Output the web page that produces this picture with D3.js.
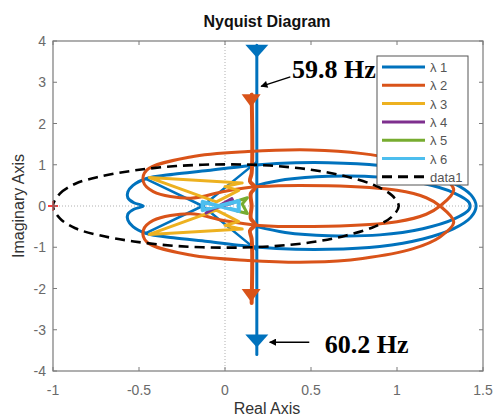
<!DOCTYPE html>
<html><head><meta charset="utf-8">
<script src="https://cdn.jsdelivr.net/npm/d3@7"></script>
<style>body{margin:0;background:#fff}svg{display:block}</style>
</head><body>
<svg id="c" width="493" height="417"></svg>
<script>
// ---- data ----
const xTicks = [-1, -0.5, 0, 0.5, 1, 1.5];
const xTickLabels = ["-1", "-0.5", "0", "0.5", "1", "1.5"];
const yTicks = [-4, -3, -2, -1, 0, 1, 2, 3, 4];
const yTickLabels = ["-4", "-3", "-2", "-1", "0", "1", "2", "3", "4"];
const seriesNames = ["λ 1", "λ 2", "λ 3", "λ 4", "λ 5", "λ 6", "data1"];

// λ1 (blue)
const l1Outer = [[-0.475,0],[-0.53,0.08],[-0.565,0.2],[-0.565,0.34],[-0.535,0.5],[-0.46,0.66],[-0.3,0.77],[-0.1,0.86],[0.1,0.96],[0.3,1.03],[0.6,1.05],[0.9,0.98],[1.15,0.8],[1.33,0.55],[1.43,0.27],[1.46,0],
  [1.43,-0.27],[1.33,-0.55],[1.15,-0.8],[0.9,-0.98],[0.6,-1.05],[0.3,-1.03],[0.1,-0.96],[-0.1,-0.86],[-0.3,-0.77],[-0.46,-0.66],[-0.535,-0.5],[-0.565,-0.34],[-0.565,-0.2],[-0.53,-0.08]];
const l1Inner = [[0.185,0.5],[0.35,0.64],[0.6,0.72],[0.9,0.7],[1.15,0.55],[1.33,0.32],[1.42,0.08],[1.42,-0.08],[1.33,-0.32],[1.15,-0.55],[0.9,-0.7],[0.6,-0.72],[0.35,-0.64],[0.185,-0.5]];
const l1CrossA = [[-0.46,0.66],[-0.13,0],[0.185,-1.07]];
const l1CrossB = [[-0.46,-0.66],[-0.13,0],[0.185,1.07]];
const l1Vertical = [[0.185,3.9],[0.185,-3.6]];
const l1Arrows = [[0.185,3.75],[0.185,-3.27]];

// λ2 (orange)
const l2Loop = [[1.09,1.04],[1.25,0.75],[1.33,0.39],[1.25,0],[1.17,-0.2],[1.0,-0.38],[0.6,-0.49],[0.2,-0.47],[0,-0.36],[-0.2,-0.19],[-0.417,-0.35],[-0.475,-0.59],[-0.455,-0.87],[-0.2,-1.19],[0.134,-1.32],[0.5,-1.36],[0.8,-1.27],
  [1.09,-1.04],[1.25,-0.75],[1.33,-0.39],[1.25,0],[1.17,0.2],[1.0,0.38],[0.6,0.49],[0.2,0.47],[0,0.36],[-0.2,0.19],[-0.417,0.35],[-0.475,0.59],[-0.455,0.87],[-0.2,1.19],[0.134,1.32],[0.5,1.36],[0.8,1.27]];
const l2Vertical = [[0.155,2.7],[0.155,0.8],[0.145,0.6],[0.175,0.45],[0.15,0.3],[0.155,0],[0.15,-0.3],[0.175,-0.45],[0.145,-0.6],[0.155,-0.8],[0.155,-2.35]];
const l2Arrows = [[0.152,2.55],[0.152,-2.17]];

// λ3 (yellow)
const l3Upper = [[0.1,0.56],[-0.44,0.69],[-0.05,0.1],[0.08,0.38],[0.0,0.47],[0.1,0.56]];
const l3Lower = [[0.1,-0.56],[-0.44,-0.69],[-0.05,-0.1],[0.08,-0.38],[0.0,-0.47],[0.1,-0.56]];
// λ4 (purple)
const l4 = [[-0.11,-0.17],[0.04,0.18],[0.05,0.08],[-0.08,-0.08],[-0.11,-0.17]];
// λ5 (green)
const l5 = [[0.07,0.12],[0.13,0.2],[0.1,0.05],[0.13,-0.18],[0.07,-0.12]];
// λ6 (light blue)
const l6 = [[-0.13,0.1],[0.08,-0.12],[0.08,0.12],[-0.13,-0.1],[-0.13,0.1]];
// data1 (unit circle, dashed)
const unitCircle = [[-1,0],[-0.96,0.3],[-0.87,0.54],[-0.73,0.71],[-0.53,0.86],[-0.28,0.97],[0,1.01],[0.26,0.98],[0.5,0.88],[0.7,0.72],[0.87,0.5],[0.97,0.26],[1.01,0],
  [0.97,-0.26],[0.87,-0.5],[0.7,-0.72],[0.5,-0.88],[0.26,-0.98],[0,-1.01],[-0.28,-0.97],[-0.53,-0.86],[-0.73,-0.71],[-0.87,-0.54],[-0.96,-0.3]];

// annotations: text anchor, arrow from, arrow to (data units)
const ann598 = {label:"59.8 Hz", text:[0.39,3.1], from:[0.38,3.13], to:[0.21,2.9]};
const ann602 = {label:"60.2 Hz", text:[0.58,-3.56], from:[0.49,-3.3], to:[0.26,-3.3]};

// ---- chart ----
const W = 493, H = 417;
const svg = d3.select("#c");
const x = d3.scaleLinear().domain([-1, 1.5]).range([53, 483]);
const y = d3.scaleLinear().domain([-4, 4]).range([371, 41]);
const C = {b:"#0072BD", o:"#D95319", yl:"#EDB120", p:"#7E2F8E", g:"#77AC30", c:"#4DBEEE"};

svg.append("rect").attr("width", W).attr("height", H).attr("fill", "#fff");
const defs = svg.append("defs");
defs.append("clipPath").attr("id","clip").append("rect")
  .attr("x", x(-1)).attr("y", y(4)).attr("width", x(1.5)-x(-1)).attr("height", y(-4)-y(4));
defs.append("marker").attr("id","ah").attr("viewBox","0 0 10 10").attr("refX",9).attr("refY",5)
  .attr("markerWidth",9).attr("markerHeight",7).attr("markerUnits","userSpaceOnUse").attr("orient","auto")
  .append("path").attr("d","M0,0 L10,5 L0,10 Z").attr("fill","#000");

// zero lines (dotted)
svg.append("line").attr("x1", x(0)).attr("x2", x(0)).attr("y1", y(4)).attr("y2", y(-4))
  .attr("stroke","#b0b0b0").attr("stroke-width",1).attr("stroke-dasharray","1,2");
svg.append("line").attr("x1", x(-1)).attr("x2", x(1.5)).attr("y1", y(0)).attr("y2", y(0))
  .attr("stroke","#b0b0b0").attr("stroke-width",1).attr("stroke-dasharray","1,2");

const g = svg.append("g").attr("clip-path","url(#clip)");
const lin = d3.line().x(d => x(d[0])).y(d => y(d[1]));
const smooth = d3.line().x(d => x(d[0])).y(d => y(d[1])).curve(d3.curveCatmullRom);
const smoothClosed = d3.line().x(d => x(d[0])).y(d => y(d[1])).curve(d3.curveCatmullRomClosed);

function path(gen, data, color, w, dash) {
  const p = g.append("path").attr("d", gen(data)).attr("fill","none").attr("stroke", color)
    .attr("stroke-width", w).attr("stroke-linejoin","round").attr("stroke-linecap","round");
  if (dash) p.attr("stroke-dasharray", dash).attr("stroke-linecap","butt");
  return p;
}
function tri(d, color, wPx, hPx) {
  const cx = x(d[0]), cy = y(d[1]);
  g.append("path").attr("d", `M${cx-wPx/2},${cy-hPx/2} L${cx+wPx/2},${cy-hPx/2} L${cx},${cy+hPx/2} Z`).attr("fill", color);
}

// λ1
path(smoothClosed, l1Outer, C.b, 3);
path(smooth, l1Inner, C.b, 3);
path(lin, l1CrossA, C.b, 2.5);
path(lin, l1CrossB, C.b, 2.5);
path(lin, l1Vertical, C.b, 3);
l1Arrows.forEach(d => tri(d, C.b, 23, 13));
// λ2
path(smoothClosed, l2Loop, C.o, 3);
path(smooth, l2Vertical, C.o, 4);
l2Arrows.forEach(d => tri(d, C.o, 19, 13));
// λ3
path(lin, l3Upper, C.yl, 3);
path(lin, l3Lower, C.yl, 3);
// λ4, λ5, λ6
path(lin, l4, C.p, 3);
path(lin, l5, C.g, 3);
path(lin, l6, C.c, 4);
// data1
path(smoothClosed, unitCircle, "#000", 2.6, "10,6");

// red + at (-1,0)
svg.append("path").attr("d", `M${x(-1)-5},${y(0)} H${x(-1)+5} M${x(-1)},${y(0)-5} V${y(0)+5}`)
  .attr("stroke","#ff0000").attr("stroke-width",1.3);

// axes box & ticks
const axC = "#7a7a7a";
svg.append("rect").attr("x", x(-1)).attr("y", y(4)).attr("width", x(1.5)-x(-1)).attr("height", y(-4)-y(4))
  .attr("fill","none").attr("stroke", axC).attr("stroke-width",1.2);
const tl = 4;
xTicks.forEach((t,i) => {
  svg.append("line").attr("x1",x(t)).attr("x2",x(t)).attr("y1",y(-4)).attr("y2",y(-4)-tl).attr("stroke",axC);
  svg.append("line").attr("x1",x(t)).attr("x2",x(t)).attr("y1",y(4)).attr("y2",y(4)+tl).attr("stroke",axC);
  svg.append("text").attr("x", x(t)).attr("y", 395).attr("text-anchor","middle")
    .attr("font-family","Liberation Sans, Arial, sans-serif").attr("font-size",14).attr("fill","#6a6a6a").text(xTickLabels[i]);
});
yTicks.forEach((t,i) => {
  svg.append("line").attr("x1",x(-1)).attr("x2",x(-1)+tl).attr("y1",y(t)).attr("y2",y(t)).attr("stroke",axC);
  svg.append("line").attr("x1",x(1.5)).attr("x2",x(1.5)-tl).attr("y1",y(t)).attr("y2",y(t)).attr("stroke",axC);
  svg.append("text").attr("x", 46).attr("y", y(t)+5).attr("text-anchor","end")
    .attr("font-family","Liberation Sans, Arial, sans-serif").attr("font-size",14).attr("fill","#6a6a6a").text(yTickLabels[i]);
});

// titles
svg.append("text").attr("x", 267).attr("y", 27).attr("text-anchor","middle")
  .attr("font-family","Liberation Sans, Arial, sans-serif").attr("font-size",16).attr("font-weight","bold").attr("fill","#111").text("Nyquist Diagram");
svg.append("text").attr("x", 267).attr("y", 414).attr("text-anchor","middle")
  .attr("font-family","Liberation Sans, Arial, sans-serif").attr("font-size",16).attr("fill","#333").text("Real Axis");
svg.append("text").attr("transform", `translate(24,${y(0)}) rotate(-90)`).attr("text-anchor","middle")
  .attr("font-family","Liberation Sans, Arial, sans-serif").attr("font-size",16).attr("fill","#333").text("Imaginary Axis");

// legend
const lg = svg.append("g");
lg.append("rect").attr("x",377).attr("y",56).attr("width",91).attr("height",129).attr("fill","#fff").attr("stroke","#555").attr("stroke-width",1);
const legColors = [C.b, C.o, C.yl, C.p, C.g, C.c, "#000"];
seriesNames.forEach((n,i) => {
  const yy = 67 + i*18.3;
  lg.append("line").attr("x1",382).attr("x2",425).attr("y1",yy).attr("y2",yy).attr("stroke",legColors[i]).attr("stroke-width",3)
    .attr("stroke-dasharray", i===6 ? "10,6" : null);
  lg.append("text").attr("x",430).attr("y",yy+5).attr("font-family","Liberation Sans, Arial, sans-serif").attr("font-size",13).attr("fill","#555").text(n);
});

// annotations
[ann598, ann602].forEach(a => {
  svg.append("line").attr("x1",x(a.from[0])).attr("y1",y(a.from[1])).attr("x2",x(a.to[0])).attr("y2",y(a.to[1]))
    .attr("stroke","#000").attr("stroke-width",1.5).attr("marker-end","url(#ah)");
  svg.append("text").attr("x",x(a.text[0])).attr("y",y(a.text[1])).attr("font-family","Liberation Serif, Times New Roman, serif")
    .attr("font-size",26).attr("font-weight","bold").attr("fill","#000").text(a.label);
});
</script>
</body></html>
